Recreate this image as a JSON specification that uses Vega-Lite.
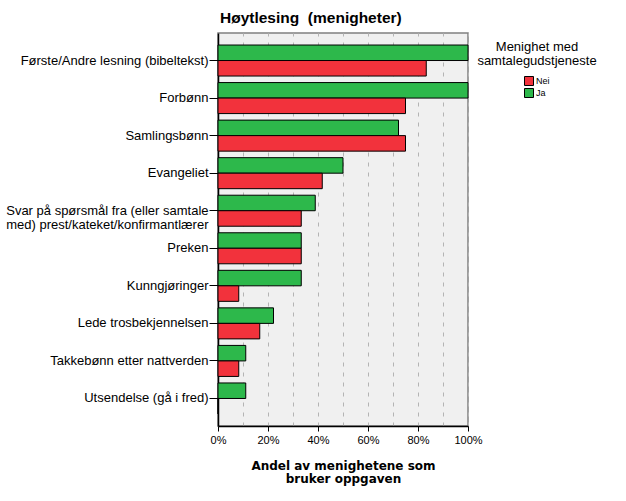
{
  "$schema": "https://vega.github.io/schema/vega-lite/v6.json",
  "width": 250,
  "height": 393,
  "autosize": {"type": "none"},
  "padding": {"left": 218, "top": 33, "right": 158, "bottom": 75},
  "background": "white",
  "title": {
    "text": "Høytlesing \u00a0(menigheter)",
    "anchor": "start",
    "frame": "group",
    "font": "Liberation Sans",
    "fontSize": 15.5,
    "fontWeight": "bold",
    "color": "black",
    "offset": 7,
    "dx": 2
  },
  "data": {
    "values": [
      {"oppgave": "Første/Andre lesning (bibeltekst)", "gruppe": "Ja", "andel": 1.0},
      {"oppgave": "Første/Andre lesning (bibeltekst)", "gruppe": "Nei", "andel": 0.833},
      {"oppgave": "Forbønn", "gruppe": "Ja", "andel": 1.0},
      {"oppgave": "Forbønn", "gruppe": "Nei", "andel": 0.75},
      {"oppgave": "Samlingsbønn", "gruppe": "Ja", "andel": 0.722},
      {"oppgave": "Samlingsbønn", "gruppe": "Nei", "andel": 0.75},
      {"oppgave": "Evangeliet", "gruppe": "Ja", "andel": 0.5},
      {"oppgave": "Evangeliet", "gruppe": "Nei", "andel": 0.417},
      {"oppgave": "Svar på spørsmål fra (eller samtale|med) prest/kateket/konfirmantlærer", "gruppe": "Ja", "andel": 0.389},
      {"oppgave": "Svar på spørsmål fra (eller samtale|med) prest/kateket/konfirmantlærer", "gruppe": "Nei", "andel": 0.333},
      {"oppgave": "Preken", "gruppe": "Ja", "andel": 0.333},
      {"oppgave": "Preken", "gruppe": "Nei", "andel": 0.333},
      {"oppgave": "Kunngjøringer", "gruppe": "Ja", "andel": 0.333},
      {"oppgave": "Kunngjøringer", "gruppe": "Nei", "andel": 0.083},
      {"oppgave": "Lede trosbekjennelsen", "gruppe": "Ja", "andel": 0.222},
      {"oppgave": "Lede trosbekjennelsen", "gruppe": "Nei", "andel": 0.167},
      {"oppgave": "Takkebønn etter nattverden", "gruppe": "Ja", "andel": 0.111},
      {"oppgave": "Takkebønn etter nattverden", "gruppe": "Nei", "andel": 0.083},
      {"oppgave": "Utsendelse (gå i fred)", "gruppe": "Ja", "andel": 0.111},
      {"oppgave": "Utsendelse (gå i fred)", "gruppe": "Nei", "andel": 0.0}
    ]
  },
  "mark": {"type": "bar", "stroke": "black", "strokeWidth": 1},
  "encoding": {
    "y": {
      "field": "oppgave",
      "type": "nominal",
      "sort": null,
      "scale": {"paddingInner": 0.174, "paddingOuter": 0.32},
      "axis": {
        "title": null,
        "labelExpr": "split(datum.label, '|')",
        "labelFont": "Liberation Sans",
        "labelFontSize": 13,
        "labelColor": "black",
        "labelLineHeight": 14,
        "labelLimit": 0,
        "labelPadding": 1,
        "tickSize": 9,
        "tickColor": "black",
        "domainColor": "black",
        "domainWidth": 1.5,
        "grid": false
      }
    },
    "yOffset": {
      "field": "gruppe",
      "type": "nominal",
      "scale": {"domain": ["Ja", "Nei"], "paddingInner": 0, "paddingOuter": 0}
    },
    "x": {
      "field": "andel",
      "type": "quantitative",
      "scale": {"domain": [0, 1], "nice": false},
      "axis": {
        "values": [0, 0.1, 0.2, 0.3, 0.4, 0.5, 0.6, 0.7, 0.8, 0.9, 1],
        "labelExpr": "round(datum.value*10) % 2 == 0 ? format(datum.value, '.0%') : ''",
        "labelFont": "Liberation Sans",
        "labelFontSize": 11,
        "labelColor": "black",
        "labelPadding": 3,
        "labelFlush": false,
        "labelOverlap": false,
        "tickSize": 5,
        "tickColor": "black",
        "tickOpacity": {"condition": {"test": "round(datum.value*10) % 2 == 0", "value": 1}, "value": 0},
        "domainColor": "black",
        "domainWidth": 1.5,
        "grid": true,
        "gridColor": "#b4b4b4",
        "gridDash": [4, 6],
        "gridWidth": 1,
        "title": ["Andel av menighetene som", "bruker oppgaven"],
        "titleFont": "DejaVu Sans",
        "titleFontSize": 12,
        "titleFontWeight": "bold",
        "titleColor": "black",
        "titleLineHeight": 13,
        "titlePadding": 15
      }
    },
    "color": {
      "field": "gruppe",
      "type": "nominal",
      "scale": {"domain": ["Nei", "Ja"], "range": ["#F2323C", "#2DB84B"]},
      "legend": {
        "orient": "none",
        "legendX": 259,
        "legendY": 8,
        "title": ["Menighet med", "samtalegudstjeneste"],
        "titleFont": "Liberation Sans",
        "titleFontSize": 13,
        "titleFontWeight": "normal",
        "titleColor": "black",
        "titleAlign": "center",
        "titleAnchor": "middle",
        "titleLineHeight": 14,
        "titlePadding": 8,
        "symbolType": "square",
        "symbolSize": 81,
        "symbolStrokeColor": "black",
        "symbolStrokeWidth": 1,
        "symbolOffset": 0,
        "labelFont": "Liberation Sans",
        "labelFontSize": 9,
        "labelColor": "black",
        "labelOffset": 2,
        "rowPadding": -2
      }
    }
  },
  "config": {
    "view": {"fill": "#F0F0F0", "stroke": "#808080", "strokeWidth": 1.5}
  }
}
